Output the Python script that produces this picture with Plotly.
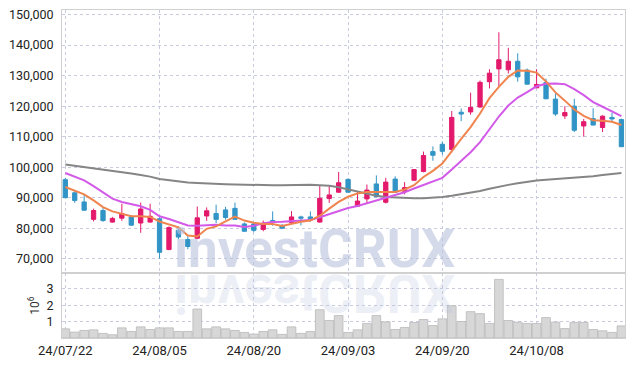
import plotly.graph_objects as go
from plotly.subplots import make_subplots

dates = ["24/07/22","24/07/23","24/07/24","24/07/25","24/07/26","24/07/29","24/07/30","24/07/31",
         "24/08/01","24/08/02","24/08/05","24/08/06","24/08/07","24/08/08","24/08/09","24/08/12",
         "24/08/13","24/08/14","24/08/16","24/08/19","24/08/20","24/08/21","24/08/22","24/08/23",
         "24/08/26","24/08/27","24/08/28","24/08/29","24/08/30","24/09/02","24/09/03","24/09/04",
         "24/09/05","24/09/06","24/09/09","24/09/10","24/09/11","24/09/12","24/09/13","24/09/19",
         "24/09/20","24/09/23","24/09/24","24/09/25","24/09/26","24/09/27","24/09/30","24/10/02",
         "24/10/04","24/10/07","24/10/08","24/10/10","24/10/11","24/10/14","24/10/15","24/10/16",
         "24/10/17","24/10/18","24/10/21","24/10/22"]

open_ = [95900,91600,88600,82900,85800,82000,83300,83700,81700,82000,
         83100,73000,79300,76300,76700,84000,84800,86000,86500,81400,
         81400,79600,82500,80800,81900,83700,83700,82000,89700,91800,
         96000,87200,89600,94500,88500,96100,92100,95700,98600,105100,
         107500,105800,118000,118100,119700,128000,132200,131900,134700,131800,
         126000,127700,122300,116800,120000,113500,115900,113000,116300,115600]
high = [96500,92100,91100,86400,86600,83700,88000,84300,88400,88000,
        83600,80600,80600,77400,87100,86800,87700,87000,88400,81900,
        81700,82500,85500,81400,85600,84100,85500,93900,93800,98400,
        96200,91900,94300,97300,96500,97000,95100,99400,105100,106800,
        108400,118400,119200,124400,128400,132100,144200,139100,137300,132300,
        132100,129000,124200,120000,122400,115800,119300,117000,117800,115900]
low = [89900,88300,85800,82200,82100,81800,82400,80800,78500,81900,
       70000,72800,76400,73100,76500,82400,81700,82800,82800,78900,
       78700,79000,80800,79700,81600,80900,82100,81900,88300,91600,
       91700,87000,88000,90200,88100,91700,91100,95500,98300,102100,
       104100,104800,115100,117200,119500,125800,126300,130700,128000,127100,
       126000,122300,116800,115800,111500,110000,113700,111500,114800,106700]
close = [90000,89100,85900,85800,82500,83200,84800,81000,86300,83900,
         72100,80200,77100,74000,83400,85700,82900,83500,82900,79000,
         79300,81400,81900,80000,83700,83300,83000,89800,90900,94900,
         91800,88900,92500,90300,95100,91800,93300,99200,103800,103900,
         105200,116300,117400,119600,127800,130800,135200,134700,129600,127200,
         127100,122400,117400,117900,112100,114900,113800,116700,115800,106700]

# moving-average lines (thousand KRW)
ma_short = [93.5,92.4,91.1,89.1,86.9,85.5,84.7,83.9,83.9,83.7,
            82.2,81.2,80.3,77.6,77.3,79.8,80.6,82.2,83.8,82.5,
            81.8,81.4,81.4,80.7,81.5,82.1,82.5,84.1,86.4,88.6,
            90.3,91.4,91.9,91.9,91.9,91.9,92.7,94.1,96.8,98.8,
            101.2,105.4,109.3,113.1,117.6,122.6,126.3,129.6,131.7,131.6,
            131.0,128.1,124.5,121.8,118.9,116.8,115.4,115.2,114.9,113.8]
ma_mid = [98.1,97.0,95.7,93.8,91.8,89.7,88.6,87.8,87.2,86.0,
          83.9,83.0,82.0,80.9,80.8,80.9,81.1,80.9,80.9,80.4,
          80.8,81.6,82.0,82.1,82.3,82.4,82.7,83.6,84.6,85.6,
          86.6,87.3,88.2,89.2,90.2,91.0,91.8,93.0,94.2,95.3,
          96.5,99.2,102.0,104.9,108.2,112.4,116.6,120.2,122.8,124.6,
          126.5,127.3,127.4,127.2,125.6,123.6,121.3,119.8,118.3,116.7]
ma_long = [100.9,100.5,100.1,99.6,99.2,98.8,98.3,97.9,97.4,96.9,
           96.1,95.7,95.3,95.0,94.8,94.6,94.5,94.4,94.3,94.2,
           94.1,94.1,94.1,94.1,94.2,94.2,94.2,94.1,93.9,93.4,
           92.7,91.9,91.3,90.6,90.2,90.0,89.9,89.8,89.8,89.9,
           90.2,90.6,91.1,91.6,92.2,92.9,93.6,94.2,94.7,95.2,
           95.6,95.9,96.1,96.3,96.5,96.7,97.0,97.4,97.8,98.1]

volume_m = [0.56,0.36,0.46,0.50,0.28,0.20,0.62,0.40,0.68,0.52,
            0.62,0.62,0.40,0.40,1.77,0.56,0.68,0.56,0.46,0.34,
            0.24,0.40,0.50,0.22,0.68,0.28,0.40,1.73,1.07,1.37,
            0.34,0.50,0.89,1.37,0.99,0.52,0.64,0.95,1.13,0.76,
            1.17,1.97,1.01,1.61,1.49,0.89,3.58,1.07,0.97,0.89,
            0.89,1.25,0.97,0.58,0.95,0.95,0.52,0.44,0.34,0.74]

price_ticks = [70000,80000,90000,100000,110000,120000,130000,140000,150000]
vol_ticks = [1e6, 2e6, 3e6]
vol_tick_text = ["1", "2", "3"]
x_tick_labels = ["24/07/22","24/08/05","24/08/20","24/09/03","24/09/20","24/10/08"]

RED = "#e3196b"
BLUE = "#3194c6"
GRID = "#c8cbdd"
AXIS = "#d0d0d0"
FONT = "Roboto"

fig = make_subplots(rows=2, cols=1, shared_xaxes=True, vertical_spacing=0,
                    row_heights=[0.802, 0.198])

fig.add_trace(go.Scatter(x=dates, y=[v * 1000 for v in ma_long], mode="lines",
                         line=dict(color="#858585", width=2), hoverinfo="skip"), row=1, col=1)
fig.add_trace(go.Candlestick(x=dates, open=open_, high=high, low=low, close=close,
                             increasing=dict(line=dict(color=RED, width=1), fillcolor=RED),
                             decreasing=dict(line=dict(color=BLUE, width=1), fillcolor=BLUE),
                             whiskerwidth=0), row=1, col=1)
fig.add_trace(go.Scatter(x=dates, y=[v * 1000 for v in ma_mid], mode="lines",
                         line=dict(color="#d35ae8", width=2), hoverinfo="skip"), row=1, col=1)
fig.add_trace(go.Scatter(x=dates, y=[v * 1000 for v in ma_short], mode="lines",
                         line=dict(color="#f0844e", width=2), hoverinfo="skip"), row=1, col=1)

fig.add_trace(go.Bar(x=dates, y=[v * 1e6 for v in volume_m],
                     marker=dict(color="#d7d7d7", line=dict(color="#b9b9b9", width=0.8))),
              row=2, col=1)

axis_common = dict(showline=True, linecolor=AXIS, linewidth=1, mirror=True,
                   showgrid=True, gridcolor=GRID, griddash="dot", gridwidth=1,
                   zeroline=False, ticks="", automargin=False)

fig.update_xaxes(type="category", range=[-0.35, 59.38], tickmode="array",
                 tickvals=x_tick_labels, ticktext=x_tick_labels,
                 rangeslider=dict(visible=False), **axis_common)
fig.update_xaxes(showticklabels=False, row=1, col=1)
fig.update_xaxes(tickfont=dict(family=FONT, size=13, color="#222"), ticklabelstandoff=0,
                 row=2, col=1)

fig.update_yaxes(range=[65300, 151500], tickvals=price_ticks, tickformat=",",
                 tickfont=dict(family=FONT, size=12.5, color="#222"), ticklabelstandoff=5,
                 row=1, col=1, **axis_common)
fig.update_yaxes(range=[0, 3.97e6], tickvals=vol_ticks, ticktext=vol_tick_text,
                 tickfont=dict(family=FONT, size=12.5, color="#222"), ticklabelstandoff=5,
                 title=dict(text="10<sup>6</sup>", font=dict(family=FONT, size=12, color="#333"),
                            standoff=4),
                 row=2, col=1, **axis_common)

fig.add_annotation(text="investCRUX", xref="paper", yref="paper", x=0.449, y=0.272,
                   xanchor="center", yanchor="middle", showarrow=False,
                   font=dict(family=FONT, size=53, weight="bold", color="rgba(185,194,222,0.6)"))
fig.add_annotation(text="investCRUX", xref="paper", yref="paper", x=0.449, y=0.136,
                   xanchor="center", yanchor="middle", showarrow=False,
                   font=dict(family=FONT, size=53, weight="bold", color="rgba(185,194,222,0.26)"))

fig.update_layout(width=634, height=367, margin=dict(l=62, r=9, t=10, b=29, autoexpand=False),
                  paper_bgcolor="white", plot_bgcolor="white", showlegend=False,
                  bargap=0.08, boxgap=0.35, font=dict(family=FONT))

post = """
document.body.style.margin = '0';
document.body.style.overflow = 'hidden';
var gd = document.getElementById('{plot_id}');
var anns = gd.querySelectorAll('g.annotation');
anns.forEach(function(a){
  if (a.getAttribute('data-index') === '1') {
    var t = a.querySelector('text');
    if (t) {
      t.style.transformBox = 'fill-box';
      t.style.transformOrigin = 'center';
      t.style.transform = 'scaleY(-1)';
    }
  }
});
"""
fig.write_html("out.html", post_script=post, config={"displayModeBar": False})
